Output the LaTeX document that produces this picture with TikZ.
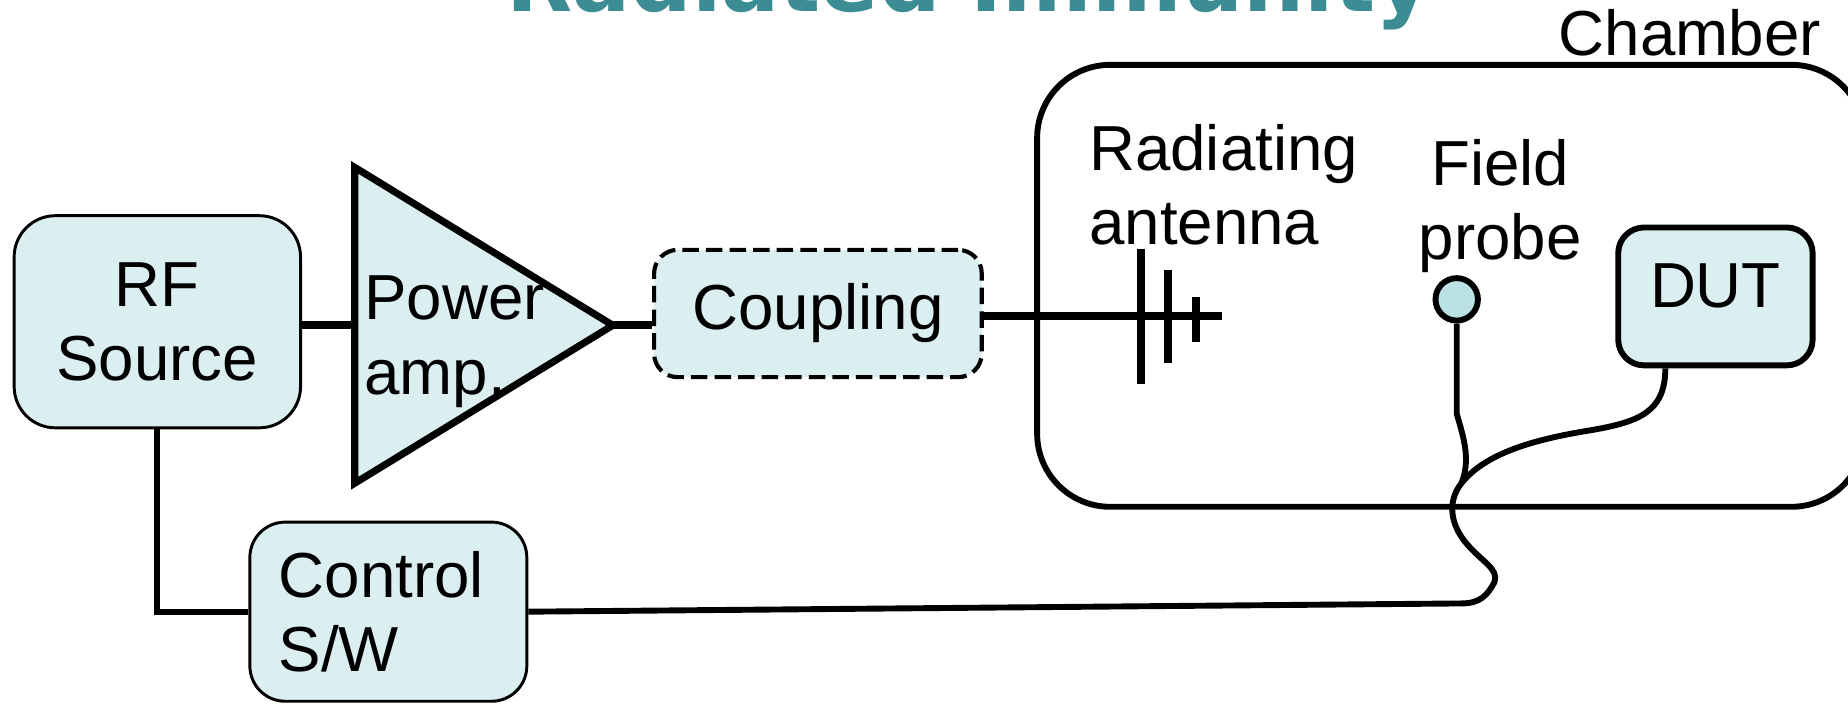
\documentclass[tikz,border=0pt]{standalone}
\usepackage{fontspec}
\setmainfont{Liberation Sans}
\newfontfamily\titlefont{DejaVu Sans}
\usetikzlibrary{positioning,calc}

\definecolor{boxfill}{HTML}{DBEEF0}
\definecolor{probefill}{HTML}{BBE1E4}
\definecolor{titleteal}{HTML}{3C8D93}

\tikzset{
  block/.style={draw, fill=boxfill, line width=2.5pt, rounded corners=35pt, align=center, inner sep=0pt},
  wire/.style={line width=5pt},
  mainwire/.style={line width=6.5pt},
  cable/.style={line width=5pt, line join=round},
  antline/.style={line width=6.5pt},
  label/.style={inner sep=0pt}
}

\begin{document}
\begin{tikzpicture}[x=1pt,y=1pt,yscale=-1,xscale=1,font=\fontsize{54}{63}\selectfont]
        \useasboundingbox (0,0) rectangle (1568,598);

        % Title (cut by the page top)
        \node[label, anchor=base, font=\titlefont\fontsize{73}{84}\selectfont\bfseries, text=titleteal] (title) at (822,9.5) {Radiated Immunity};

        % Chamber
        \node[draw, line width=5pt, rounded corners=62pt, minimum width=702pt, minimum height=375pt] (chamber) at (1231,242.5) {};
        \node[label, anchor=base east] (chamberlabel) at (1545,47) {Chamber};

        % Blocks
        \node[block, minimum width=243pt, minimum height=180pt] (rf) at (133.5,273) {RF\\Source};
        \node[block, align=left, text width=186pt, rounded corners=30pt, minimum width=235pt, minimum height=152pt] (ctrl) at (329.5,519) {Control\\S/W};
        \node[block, dashed, dash pattern=on 14pt off 6pt, line width=3.5pt, rounded corners=20pt, minimum width=278pt, minimum height=108pt] (coupling) at (694,266) {Coupling};
        \node[block, line width=5pt, rounded corners=22pt, minimum width=165pt, minimum height=117pt, text depth=18pt] (dut) at (1455.5,251.5) {DUT};

        % Power amp
        \coordinate (amp in) at (301,276);
        \coordinate (amp out) at (520,276);
        \draw[fill=boxfill, line width=6pt, line join=miter] (301,142) -- (amp out) -- (301,410) -- cycle;
        \node[label, anchor=west, align=left] (amplabel) at (309,290) {Power\\amp.};

        % Radiating antenna
        \coordinate (ant end) at (1037,268);
        \foreach \x/\ytop/\ybot in {968/211/326, 991/229/308, 1015/252/290}
            \draw[antline] (\x,\ytop) -- (\x,\ybot);
        \node[label, anchor=west, align=left] (antlabel) at (924,157) {Radiating\\antenna};

        % Field probe
        \node[draw, circle, fill=probefill, line width=5pt, minimum size=36pt, inner sep=0pt] (probe) at (1236,254) {};
        \node[label, align=center] (probelabel) at (1273,175) {Field\\probe};

        % Straight Lines
        \draw[mainwire] (rf.east |- amp in) -- (amp in);
        \draw[mainwire] (amp out) -- (coupling.west |- amp out);
        \draw[mainwire] (coupling.east |- ant end) -- (ant end);
        \draw[wire] (rf.south) |- (ctrl.west);

        % Cables
        \coordinate (probe bend) at (1236,351);
        \coordinate (cable join) at (1240,410);
        \coordinate (cable end) at (1240,512);
        \coordinate (dut out) at ($(dut.south west)!0.25!(dut.south east)$);
        \draw[cable] (probe.south) -- (probe bend) .. controls (1242,372) and (1248,390) .. (cable join);
        \draw[cable] (dut out) .. controls (1413,350) and (1390,358) .. (1350,365)
            .. controls (1300,373) and (1260,385) .. (cable join)
            .. controls (1228,425) and (1230,445) .. (1245,462)
            .. controls (1258,477) and (1272,483) .. (1268,494)
            .. controls (1262,505) and (1256,512) .. (cable end)
            -- (ctrl.east);

\end{tikzpicture}
\end{document}
